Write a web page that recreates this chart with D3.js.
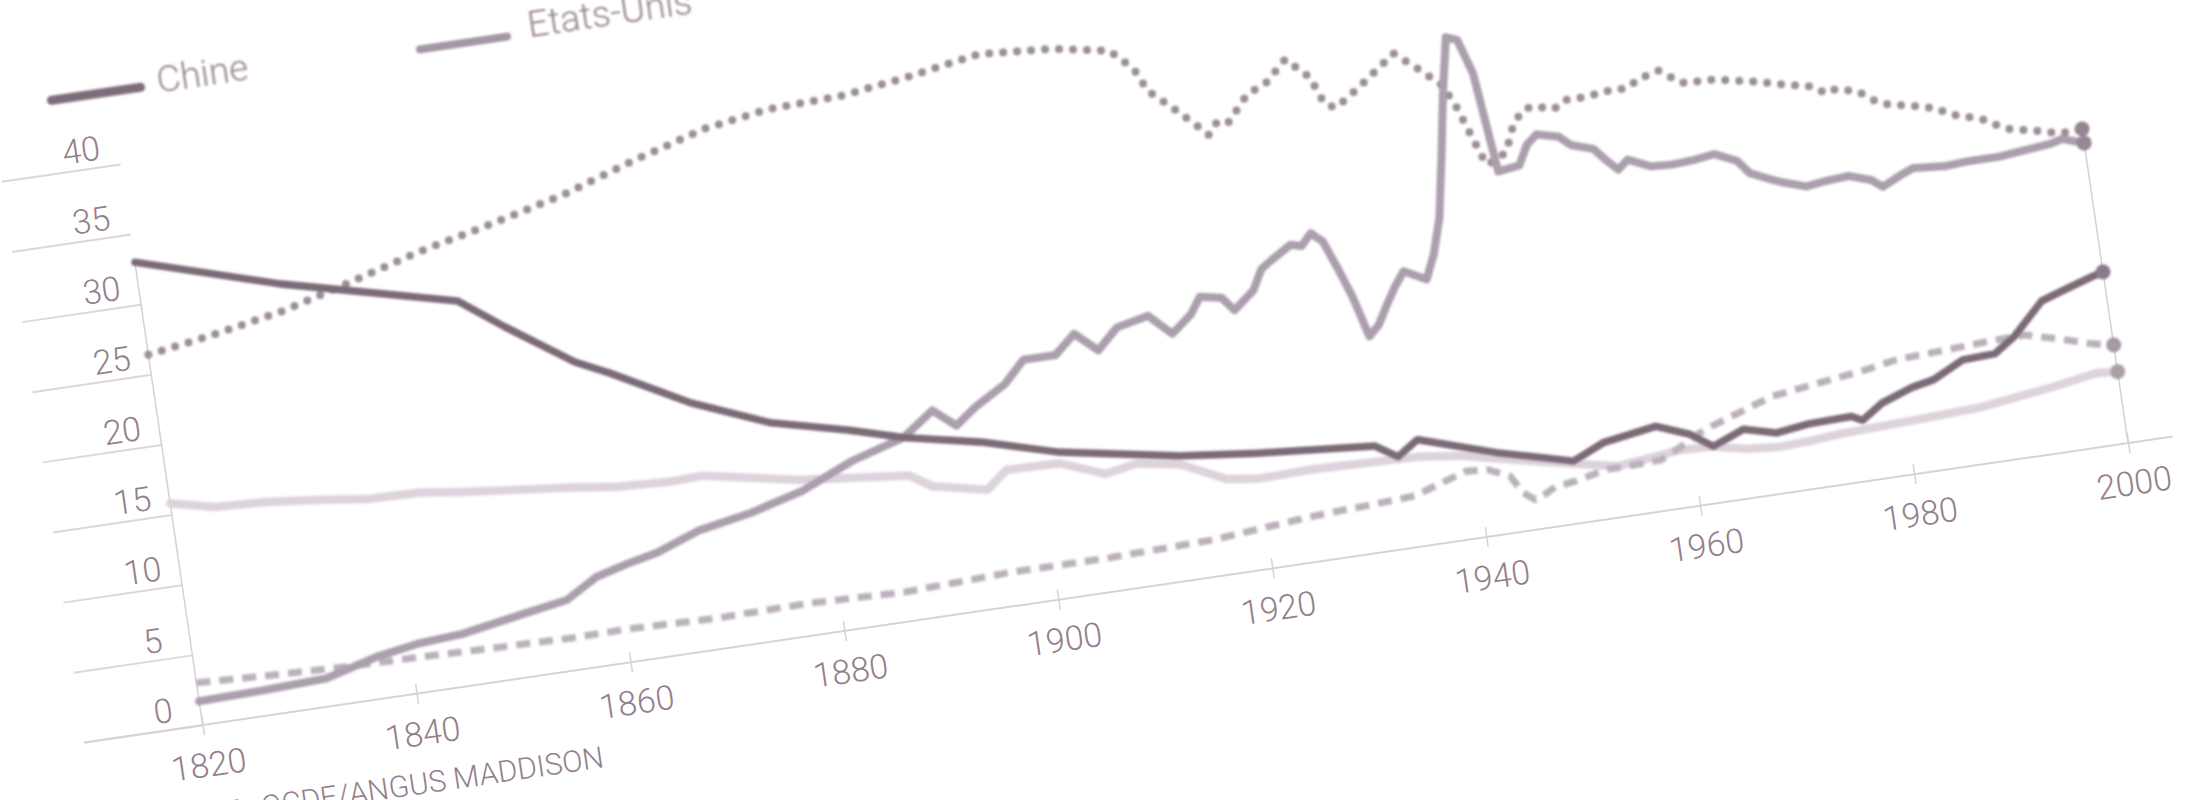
<!DOCTYPE html>
<html>
<head>
<meta charset="utf-8">
<script src="https://cdn.jsdelivr.net/npm/d3@7"></script>
<style>
  body { margin: 0; background: #fff; }
  svg text { font-family: Roboto, "Open Sans", sans-serif; font-weight: 300; fill: #957f8d; }
</style>
</head>
<body>
<div id="chart"></div>
<script>
// Part de chaque pays dans le PIB mondial (%), 1820-2000

// Series values: [year, share]
const chine = [[1820,33.0],[1833,30.0],[1849,27.0],[1853,24.7],[1859,21.5],[1862,20.4],[1869,17.5],[1876,15.3],[1883,14.0],[1888,12.9],[1895,11.8],[1902,10.3],[1913,8.8],[1920,8.2],[1931,7.5],[1933,6.5],[1935,7.5],[1942,5.8],[1949,4.4],[1952,5.4],[1957,6.0],[1960,5.1],[1962,4.0],[1965,4.9],[1968,4.3],[1971,4.6],[1975,4.7],[1976,4.3],[1978,5.3],[1981,6.1],[1983,6.4],[1986,7.5],[1989,7.6],[1991,8.6],[1994,10.8],[1996,11.3],[1999,12.0],[2000,12.2]]

const etatsUnis = [[1820,1.7],[1826,1.8],[1832,2.0],[1837,3.0],[1841,3.5],[1845,3.7],[1851,4.5],[1855,5.0],[1858,6.3],[1861,6.9],[1864,7.4],[1868,8.5],[1873,9.2],[1878,10.2],[1883,11.8],[1888,12.9],[1891,14.5],[1893,13.2],[1895,14.3],[1898,15.6],[1900,17.1],[1903,17.1],[1905,18.4],[1907,17.0],[1909,18.4],[1912,18.9],[1914,17.4],[1916,18.6],[1917,19.7],[1919,19.4],[1920,18.4],[1922,19.6],[1923,21.0],[1924,21.5],[1926,22.4],[1927,22.2],[1928,23.0],[1929,22.3],[1930,20.3],[1931,18.1],[1932,15.2],[1933,15.9],[1934,17.2],[1935,18.4],[1936,19.4],[1937,19.0],[1938,18.6],[1939,20.3],[1940,22.8],[1941,27.0],[1942,31.5],[1943,35.3],[1944,35.0],[1945,32.5],[1946,25.4],[1947,25.5],[1948,25.6],[1949,27.0],[1950,27.6],[1952,27.2],[1953,26.5],[1955,26.0],[1956,25.1],[1957,24.3],[1958,24.9],[1960,24.2],[1962,24.1],[1964,24.2],[1966,24.4],[1968,23.7],[1969,22.7],[1971,22.0],[1972,21.7],[1974,21.2],[1976,21.4],[1978,21.5],[1980,21.0],[1981,20.4],[1983,21.1],[1984,21.4],[1987,21.2],[1989,21.3],[1992,21.3],[1997,21.7],[1998,21.9],[2000,21.4]]

const europe = [[1820,26.4],[1826,27.1],[1833,28.1],[1839,29.3],[1846,30.8],[1853,32.0],[1860,33.3],[1867,35.0],[1874,36.5],[1880,37.2],[1887,37.4],[1893,38.0],[1900,38.9],[1907,38.5],[1912,37.8],[1914,36.3],[1915,34.6],[1917,33.2],[1919,31.7],[1920,30.9],[1921,31.8],[1922,31.6],[1924,33.3],[1926,34.0],[1928,35.4],[1930,33.9],[1931,31.9],[1932,31.5],[1934,32.5],[1936,33.6],[1938,34.7],[1940,33.4],[1942,32.0],[1943,30.4],[1944,28.2],[1945,26.0],[1946,26.2],[1947,26.7],[1948,28.5],[1949,29.4],[1950,29.6],[1952,29.2],[1953,29.7],[1955,29.7],[1957,29.9],[1959,29.9],[1960,30.4],[1962,30.8],[1964,29.7],[1967,29.6],[1971,29.0],[1973,28.6],[1976,28.1],[1977,27.5],[1978,27.7],[1980,27.3],[1981,26.7],[1982,26.2],[1985,25.7],[1987,25.3],[1988,24.8],[1991,24.1],[1993,23.2],[1996,22.7],[1998,22.3],[2000,22.4]]

const japon = [[1820,3.0],[1826,2.8],[1834,2.6],[1842,2.5],[1848,2.4],[1855,2.3],[1861,2.35],[1868,2.2],[1877,2.3],[1886,2.1],[1896,2.4],[1905,2.4],[1915,2.6],[1924,3.2],[1934,3.6],[1939,4.8],[1941,4.7],[1943,4.0],[1944,2.7],[1945,2.1],[1946,2.4],[1947,2.8],[1949,3.0],[1952,3.5],[1954,3.5],[1957,3.6],[1959,4.3],[1961,5.1],[1962,5.4],[1964,5.9],[1966,6.4],[1968,6.9],[1970,7.1],[1974,7.5],[1977,7.8],[1980,8.2],[1983,8.3],[1988,8.5],[1992,8.6],[1995,8.0],[1998,7.3],[2000,7.0]]

const inde = [[1820,15.8],[1824,15.1],[1829,14.9],[1834,14.5],[1838,14.1],[1843,14.0],[1847,13.6],[1852,13.2],[1857,12.8],[1861,12.4],[1866,12.2],[1869,12.3],[1878,11.0],[1888,10.2],[1890,9.2],[1895,8.4],[1897,9.6],[1902,9.5],[1906,8.3],[1909,8.7],[1913,8.2],[1917,6.7],[1920,6.4],[1925,6.5],[1930,6.4],[1935,6.3],[1939,5.9],[1946,4.7],[1953,3.6],[1956,3.85],[1959,4.1],[1962,4.0],[1965,3.5],[1968,3.3],[1971,3.4],[1974,3.6],[1978,3.7],[1981,3.8],[1984,3.9],[1987,4.0],[1994,4.7],[1998,5.2],[2000,5.1]]

const xTicks = [1820, 1840, 1860, 1880, 1900, 1920, 1940, 1960, 1980, 2000]
const yTicks = [0, 5, 10, 15, 20, 25, 30, 35, 40]

// the printed page is photographed at an angle: the whole chart is turned
const origin = { x: 202.6, y: 725 }
const angle = -8.33
const width = 1946
const height = 567

const svg = d3.select('#chart')
  .append('svg')
  .attr('width', 2195)
  .attr('height', 800)

svg.append('defs').append('filter')
  .attr('id', 'soft')
  .append('feGaussianBlur')
  .attr('stdDeviation', 0.8)

const g = svg.append('g')
  .attr('transform', `translate(${origin.x},${origin.y}) rotate(${angle}) translate(0,${-height})`)

const xScale = d3.scaleLinear().domain([1820, 2000]).range([0, width])
const yScale = d3.scaleLinear().domain([0, 40]).range([height, 0])

// Y axis: short grid stubs to the left, labels sitting on them
const gy = g.append('g').call(d3.axisLeft(yScale).tickValues(yTicks).tickSize(120).tickPadding(0))
gy.attr('font-family', null).attr('font-size', null)
gy.select('.domain').remove()
gy.selectAll('.tick line').attr('stroke', '#ddd7dd').attr('stroke-width', 2)
gy.selectAll('.tick text')
  .attr('x', -37)
  .attr('dy', -8)
  .attr('text-anchor', 'middle')
  .style('font-size', '34px')

// X axis
const gx = g.append('g')
  .attr('transform', `translate(0,${height})`)
  .call(d3.axisBottom(xScale).tickValues(xTicks).tickSize(10).tickFormat(d3.format('d')))
gx.attr('font-family', null).attr('font-size', null)
gx.select('.domain').remove()
gx.selectAll('.tick line').attr('y1', -10).attr('y2', 10).attr('stroke', '#d8d2d8').attr('stroke-width', 1.5)
gx.selectAll('.tick text')
  .attr('y', 52)
  .attr('dy', 0)
  .style('font-size', '34px')

g.append('line')
  .attr('x1', xScale(1820) - 120)
  .attr('x2', xScale(2000) + 45)
  .attr('y1', yScale(0))
  .attr('y2', yScale(0))
  .attr('stroke', '#d8d2d8')
  .attr('stroke-width', 2)

const series = [
  { name: 'Inde', data: inde, color: '#ddd3dc', width: 8.5, dash: null, cap: 'round', dot: '#aaa0a8' },
  { name: 'Japon', data: japon, color: '#bbb1bc', width: 7, dash: '14,9', cap: 'butt', dot: '#a39aa3' },
  { name: 'Europe', data: europe, color: '#9b8d99', width: 8, dash: '0,14', cap: 'round', dot: '#948592' },
  { name: 'Etats-Unis', data: etatsUnis, color: '#ab9ead', width: 8, dash: null, cap: 'round', dot: '#958794' },
  { name: 'Chine', data: chine, color: '#7c6a77', width: 7.5, dash: null, cap: 'round', dot: '#8a7986' }
]

// Vertical axes at both ends, up to the highest value of that year
const firstMax = d3.max(series, s => s.data[0][1])
const lastMax = d3.max(series, s => s.data[s.data.length - 1][1])
g.append('line')
  .attr('x1', xScale(1820)).attr('x2', xScale(1820))
  .attr('y1', yScale(0)).attr('y2', yScale(firstMax))
  .attr('stroke', '#d6d0d6').attr('stroke-width', 1.5)
g.append('line')
  .attr('x1', xScale(2000)).attr('x2', xScale(2000))
  .attr('y1', yScale(0)).attr('y2', yScale(lastMax))
  .attr('stroke', '#d6d0d6').attr('stroke-width', 1.5)

const line = d3.line()
  .x(d => xScale(d[0]))
  .y(d => yScale(d[1]))

const lines = g.append('g').attr('filter', 'url(#soft)')

lines.selectAll('path')
  .data(series)
  .enter()
  .append('path')
  .attr('d', d => line(d.data))
  .attr('fill', 'none')
  .attr('stroke', d => d.color)
  .attr('stroke-width', d => d.width)
  .attr('stroke-dasharray', d => d.dash)
  .attr('stroke-linecap', d => d.cap)
  .attr('stroke-linejoin', 'round')

lines.selectAll('circle')
  .data(series)
  .enter()
  .append('circle')
  .attr('cx', d => xScale(d.data[d.data.length - 1][0]))
  .attr('cy', d => yScale(d.data[d.data.length - 1][1]))
  .attr('r', 7.5)
  .attr('fill', d => d.dot)

// Legend (only the top row is in the picture)
const legend = g.append('g').attr('filter', 'url(#soft)')
legend.append('line')
  .attr('x1', -59).attr('x2', 31).attr('y1', -73).attr('y2', -73)
  .attr('stroke', '#7e6c79').attr('stroke-width', 9).attr('stroke-linecap', 'round')
legend.append('text')
  .attr('x', 48).attr('y', -65)
  .style('font-size', '37px')
  .text('Chine')
legend.append('line')
  .attr('x1', 313).attr('x2', 401).attr('y1', -70).attr('y2', -70)
  .attr('stroke', '#a498a6').attr('stroke-width', 8).attr('stroke-linecap', 'round')
legend.append('text')
  .attr('x', 423).attr('y', -66)
  .style('font-size', '37px')
  .text('Etats-Unis')

// Source
g.append('text')
  .attr('x', 392)
  .attr('y', height + 100)
  .attr('text-anchor', 'end')
  .style('font-size', '30px')
  .text('SOURCE : OCDE/ANGUS MADDISON')
</script>
</body>
</html>
